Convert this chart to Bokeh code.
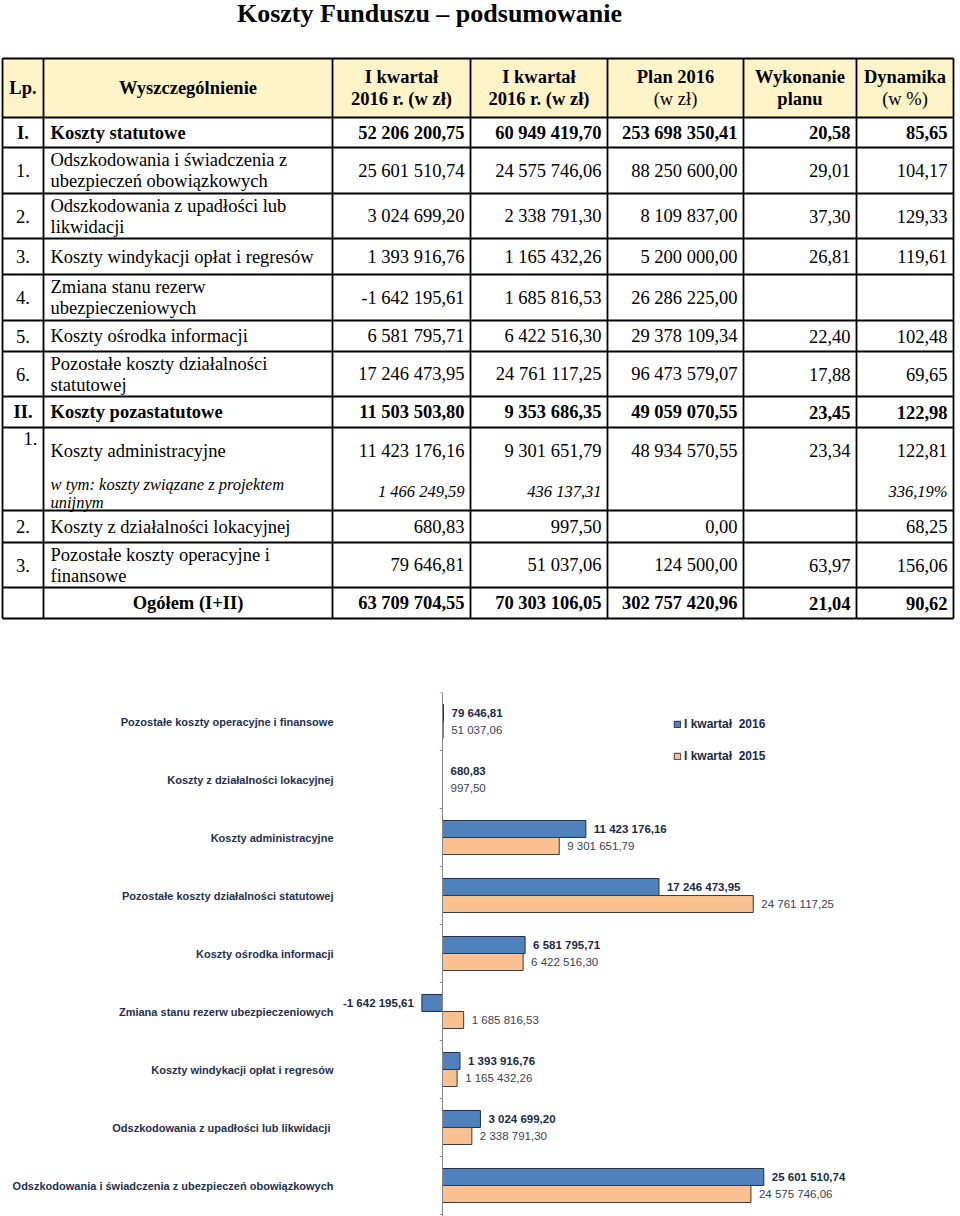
from bokeh.plotting import figure
from bokeh.models import Range1d, ColumnDataSource, Span, Legend, LegendItem
from bokeh.layouts import column
from bokeh.core.properties import value, field
from bokeh.transform import dodge
from bokeh.embed import file_html
from bokeh.resources import INLINE

# ---------------- data ----------------
title = "Koszty Funduszu – podsumowanie"

header_lines = [["Lp."], ["Wyszczególnienie"], ["I kwartał", "2016 r. (w zł)"],
                ["I kwartał", "2016 r. (w zł)"], ["Plan 2016", "(w zł)"],
                ["Wykonanie", "planu"], ["Dynamika", "(w %)"]]
header_bold = [[True], [True], [True, True], [True, True], [True, False],
               [True, True], [True, False]]

row_lp = ["I.", "1.", "2.", "3.", "4.", "5.", "6.", "II.", "1.", "2.", "3.", ""]
row_names = [
    "Koszty statutowe",
    "Odszkodowania i świadczenia z\nubezpieczeń obowiązkowych",
    "Odszkodowania z upadłości lub\nlikwidacji",
    "Koszty windykacji opłat i regresów",
    "Zmiana stanu rezerw\nubezpieczeniowych",
    "Koszty ośrodka informacji",
    "Pozostałe koszty działalności\nstatutowej",
    "Koszty pozastatutowe",
    "Koszty administracyjne",
    "Koszty z działalności lokacyjnej",
    "Pozostałe koszty operacyjne i\nfinansowe",
    "Ogółem (I+II)",
]
col_q1_2016 = ["52 206 200,75", "25 601 510,74", "3 024 699,20", "1 393 916,76",
               "-1 642 195,61", "6 581 795,71", "17 246 473,95", "11 503 503,80",
               "11 423 176,16", "680,83", "79 646,81", "63 709 704,55"]
col_q1_2015 = ["60 949 419,70", "24 575 746,06", "2 338 791,30", "1 165 432,26",
               "1 685 816,53", "6 422 516,30", "24 761 117,25", "9 353 686,35",
               "9 301 651,79", "997,50", "51 037,06", "70 303 106,05"]
col_plan = ["253 698 350,41", "88 250 600,00", "8 109 837,00", "5 200 000,00",
            "26 286 225,00", "29 378 109,34", "96 473 579,07", "49 059 070,55",
            "48 934 570,55", "0,00", "124 500,00", "302 757 420,96"]
col_wykonanie = ["20,58", "29,01", "37,30", "26,81", "", "22,40", "17,88", "23,45",
                 "23,34", "", "63,97", "21,04"]
col_dynamika = ["85,65", "104,17", "129,33", "119,61", "", "102,48", "69,65", "122,98",
                "122,81", "68,25", "156,06", "90,62"]
bold_rows = [0, 7, 11]
sub_name = "w tym: koszty związane z projektem\nunijnym"
sub_values = ["1 466 249,59", "436 137,31", "", "", "336,19%"]

# chart data (bottom to top)
categories = [
    "Odszkodowania i świadczenia z ubezpieczeń obowiązkowych",
    "Odszkodowania z upadłości lub  likwidacji",
    "Koszty windykacji opłat i regresów",
    "Zmiana stanu rezerw ubezpieczeniowych",
    "Koszty ośrodka informacji",
    "Pozostałe koszty działalności statutowej",
    "Koszty administracyjne",
    "Koszty z działalności lokacyjnej",
    "Pozostałe koszty operacyjne i finansowe",
]
q1_2016 = [25601510.74, 3024699.20, 1393916.76, -1642195.61, 6581795.71,
           17246473.95, 11423176.16, 680.83, 79646.81]
q1_2015 = [24575746.06, 2338791.30, 1165432.26, 1685816.53, 6422516.30,
           24761117.25, 9301651.79, 997.50, 51037.06]
series_names = ["I kwartał  2016", "I kwartał  2015"]

# ---------------- layout constants ----------------
SERIF = "Liberation Serif"
SANS = "Liberation Sans"
COL_X = [2, 43, 332, 470, 607, 743, 856, 953]
ROW_Y = [58, 117, 147, 193, 238, 274, 320, 351, 396, 427, 510, 542, 587, 618]
BODY = "18.5px"
ITAL = "16.5px"
W = 960

# ---------------- table figure ----------------
t = figure(width=W, height=640, x_range=Range1d(0, W), y_range=Range1d(640, 0),
           output_backend="svg", toolbar_location=None,
           x_axis_location=None, y_axis_location=None, min_border=0)
t.grid.visible = False
t.outline_line_color = None

t.quad(left=[COL_X[0]], right=[COL_X[-1]], top=[ROW_Y[0]], bottom=[ROW_Y[1]],
       fill_color="#FFF4C8", line_color=None)
t.segment(x0=[COL_X[0]] * len(ROW_Y), x1=[COL_X[-1]] * len(ROW_Y), y0=ROW_Y, y1=ROW_Y,
          line_color="black", line_width=1.8)
t.segment(x0=COL_X, x1=COL_X, y0=[ROW_Y[0]] * len(COL_X), y1=[ROW_Y[-1]] * len(COL_X),
          line_color="black", line_width=1.8)

items = {"normal": [], "bold": [], "italic": []}

def add(style, x, y, txt, align):
    items[style].append((x, y, txt, align))

hc = (ROW_Y[0] + ROW_Y[1]) / 2
for j, (lines, bolds) in enumerate(zip(header_lines, header_bold)):
    cx = (COL_X[j] + COL_X[j + 1]) / 2
    ys = [hc] if len(lines) == 1 else [hc - 11, hc + 11]
    for ln, b, yy in zip(lines, bolds, ys):
        add("bold" if b else "normal", cx, yy, ln, "center")

value_cols = [col_q1_2016, col_q1_2015, col_plan, col_wykonanie, col_dynamika]
for i in range(len(row_names)):
    top, bot = ROW_Y[i + 1], ROW_Y[i + 2]
    c = (top + bot) / 2
    style = "bold" if i in bold_rows else "normal"
    lp_x, lp_y = (COL_X[0] + COL_X[1]) / 2, c
    if i == 8:
        c = top + 23
        lp_x, lp_y = 30, top + 11
    add(style, lp_x, lp_y, row_lp[i], "center")
    lines = row_names[i].split("\n")
    ys = [c] if len(lines) == 1 else [c - 10.5, c + 10.5]
    for ln, yy in zip(lines, ys):
        if i == 11:
            add(style, (COL_X[1] + COL_X[2]) / 2, yy, ln, "center")
        else:
            add(style, COL_X[1] + 7, yy, ln, "left")
    for j, col in enumerate(value_cols):
        if col[i]:
            add(style, COL_X[j + 3] - 6, c, col[i], "right")
    if i == 8:
        sub_lines = sub_name.split("\n")
        for ln, yy in zip(sub_lines, [bot - 26, bot - 8]):
            add("italic", COL_X[1] + 7, yy, ln, "left")
        for j, v in enumerate(sub_values):
            if v:
                add("italic", COL_X[j + 3] - 6, bot - 19, v, "right")

for style, lst in items.items():
    src = ColumnDataSource(dict(x=[a[0] for a in lst], y=[a[1] for a in lst],
                                text=[a[2] for a in lst], align=[a[3] for a in lst]))
    t.text(x="x", y="y", text="text", source=src, text_align=field("align"),
           text_baseline="middle", text_font=value(SERIF),
           text_font_size=ITAL if style == "italic" else BODY,
           text_font_style=style, text_color="black")

t.text(x=[429], y=[13], text=[title], text_align="center", text_baseline="middle",
       text_font=value(SERIF), text_font_size="26px", text_font_style="bold",
       text_color="black")

# ---------------- chart figure ----------------
PX = 12.55e-6          # pixels per zł
zero_x = 442
x0 = -zero_x / PX
x1 = (W - zero_x) / PX
label_x = -(zero_x - 333) / PX
CH = 576               # chart height (page y 640..1216)
TOP = 52               # frame top at page y 692
y_top = 8.5
y_bot = y_top - (CH - TOP) / 58.0

c = figure(width=W, height=CH, x_range=Range1d(x0, x1), y_range=Range1d(y_bot, y_top),
           output_backend="svg", toolbar_location=None, x_axis_location=None,
           y_axis_location=None, min_border_left=0, min_border_top=TOP,
           min_border_right=0, min_border_bottom=0)
c.grid.visible = False
c.outline_line_color = None

def fmt(v):
    return f"{v:,.2f}".replace(",", " ").replace(".", ",")

src = ColumnDataSource(dict(
    y=list(range(len(categories))),
    cat=categories,
    v16=q1_2016, v15=q1_2015,
    l16=[fmt(v) for v in q1_2016], l15=[fmt(v) for v in q1_2015],
    a16=["left" if v >= 0 else "right" for v in q1_2016],
    o16=[8 if v >= 0 else -8 for v in q1_2016],
    a15=["left" if v >= 0 else "right" for v in q1_2015],
    o15=[8 if v >= 0 else -8 for v in q1_2015],
))

OFF = 0.147
H = 0.293
r16 = c.hbar(y=dodge("y", OFF), left=0, right="v16", height=H, source=src,
             fill_color="#4F81BD", line_color="#1f2f46", line_width=1)
r15 = c.hbar(y=dodge("y", -OFF), left=0, right="v15", height=H, source=src,
             fill_color="#FAC090", line_color="#3a3a3a", line_width=1)

c.text(x="v16", y=dodge("y", OFF), text="l16", source=src, text_align=field("a16"),
       x_offset=field("o16"), text_baseline="middle", text_font=value(SANS),
       text_font_size="11.5px", text_font_style="bold", text_color="#1b2a47")
c.text(x="v15", y=dodge("y", -OFF), text="l15", source=src, text_align=field("a15"),
       x_offset=field("o15"), text_baseline="middle", text_font=value(SANS),
       text_font_size="11.5px", text_font_style="normal", text_color="#3b4250")

# category labels
c.text(x=label_x, y="y", text="cat", source=src, text_align="right",
       text_baseline="middle", text_font=value(SANS), text_font_size="11px",
       text_font_style="bold", text_color="#1f3050")

c.add_layout(Span(location=0, dimension="height", line_color="#868686", line_width=1))
bounds = [k - 0.5 for k in range(len(categories) + 1)]
c.segment(x0=[-0.22e6] * len(bounds), x1=[0] * len(bounds), y0=bounds, y1=bounds,
          line_color="#868686", line_width=1)

legend = Legend(items=[LegendItem(label=series_names[0], renderers=[r16]),
                       LegendItem(label=series_names[1], renderers=[r15])],
                location=(673, 453), orientation="vertical",
                glyph_width=8, glyph_height=8, label_height=15, label_standoff=3,
                spacing=17, padding=0, margin=0, border_line_color=None,
                background_fill_alpha=0,
                label_text_font=SANS, label_text_font_size="12px",
                label_text_font_style="bold", label_text_color="#1b2a47")
c.add_layout(legend)

layout = column(t, c, spacing=0)
open("out.html", "w").write(file_html(layout, INLINE))
